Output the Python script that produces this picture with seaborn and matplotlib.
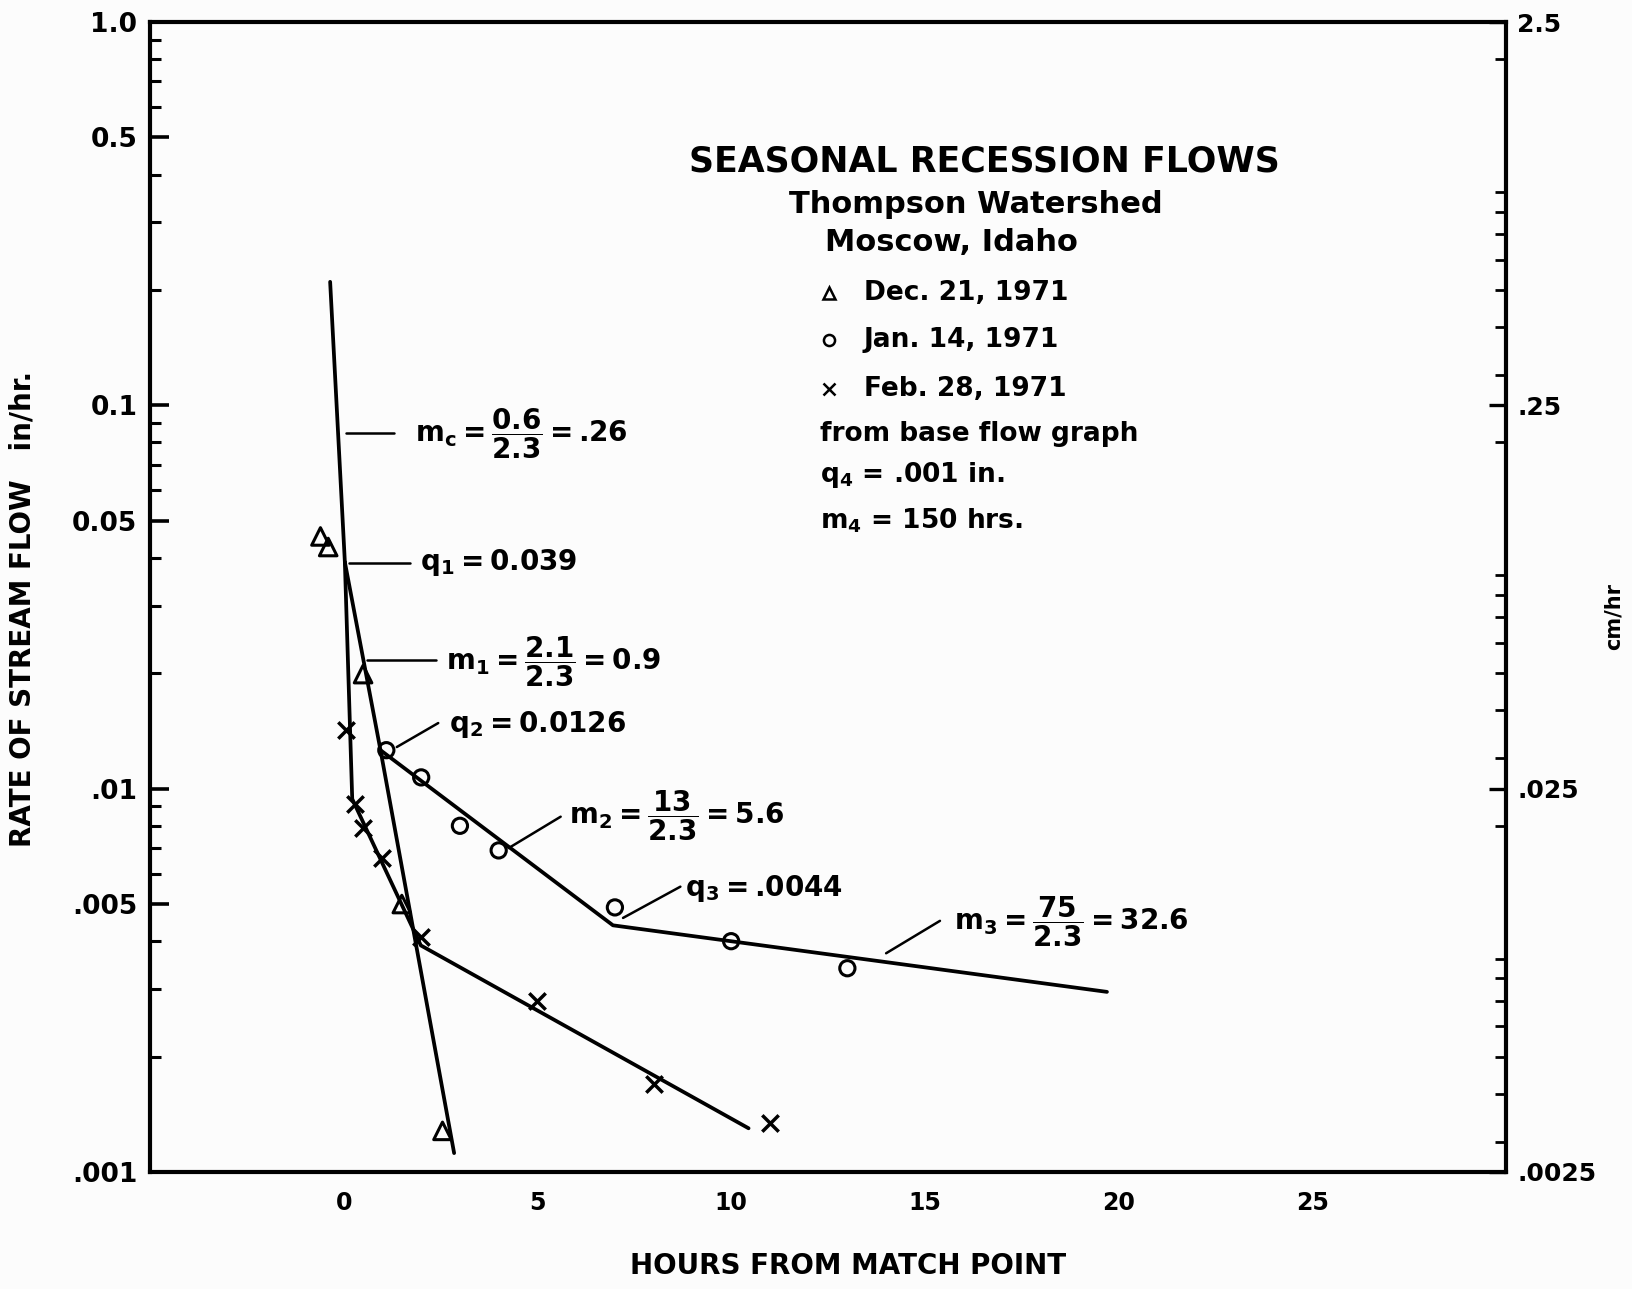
import matplotlib
matplotlib.use("Agg")
import matplotlib.pyplot as plt
import pandas as pd
import numpy as np
import seaborn as sns
from matplotlib.ticker import FixedLocator, LogLocator, NullFormatter, NullLocator

# Observed recession points (hours from match point, stream flow in/hr)
dec_hours = [-0.6, -0.4, 0.5, 1.5, 2.55]
dec_flow = [0.0455, 0.0427, 0.0199, 0.0050, 0.00128]
jan_hours = [1.1, 2.0, 3.0, 4.0, 7.0, 10.0, 13.0]
jan_flow = [0.0126, 0.0107, 0.0080, 0.0069, 0.0049, 0.0040, 0.0034]
feb_hours = [0.05, 0.3, 0.5, 1.0, 2.0, 5.0, 8.0, 11.0]
feb_flow = [0.0142, 0.0091, 0.0079, 0.0066, 0.0041, 0.0028, 0.0017, 0.00134]

# Fitted recession segments
mc_hours = [-0.35, 0.03]
mc_flow = [0.21, 0.039]
m1_hours = [0.03, 0.95, 2.85]
m1_flow = [0.039, 0.0126, 0.00112]
m23_hours = [0.95, 6.95, 19.7]
m23_flow = [0.0126, 0.0044, 0.00295]
feb_fit_hours = [0.03, 0.22, 1.99, 10.45]
feb_fit_flow = [0.039, 0.0094, 0.0039, 0.0013]

# Axis ticks
x_ticks = [0, 5, 10, 15, 20, 25]
y_ticks = [0.001, 0.005, 0.01, 0.05, 0.1, 0.5, 1.0]
y_tick_labels = [".001", ".005", ".01", "0.05", "0.1", "0.5", "1.0"]
cm_ticks = [0.0025, 0.025, 0.25, 2.5]
cm_tick_labels = [".0025", ".025", ".25", "2.5"]
IN_TO_CM = 2.5

sns.set_style("white")
plt.rcParams["font.family"] = ["DejaVu Sans"]
plt.rcParams["font.weight"] = "bold"
for key in ("text.color", "axes.labelcolor", "xtick.color", "ytick.color"):
    plt.rcParams[key] = "black"
plt.rcParams["mathtext.fontset"] = "custom"
for key in ("rm", "it", "bf", "sf"):
    plt.rcParams[f"mathtext.{key}"] = "DejaVu Sans:bold"
plt.rcParams["mathtext.default"] = "rm"

fig = plt.figure(figsize=(16.32, 12.89), dpi=100)
fig.patch.set_facecolor("#fcfcfc")
ax = fig.add_axes([0.0919, 0.0908, 0.8309, 0.8921])
ax.set_facecolor("#fcfcfc")
ax.set_yscale("log")

LW = 2.7
segments = [(mc_hours, mc_flow), (m1_hours, m1_flow), (m23_hours, m23_flow),
            (feb_fit_hours, feb_fit_flow)]
for hrs, flw in segments:
    sns.lineplot(x=hrs, y=flw, ax=ax, color="black", lw=LW, sort=False,
                 estimator=None)

sns.scatterplot(x=dec_hours, y=dec_flow, ax=ax, marker="^", s=160,
                facecolor="none", edgecolor="black", linewidth=2.2, zorder=5)
sns.scatterplot(x=jan_hours, y=jan_flow, ax=ax, marker="o", s=120,
                facecolor="none", edgecolor="black", linewidth=2.2, zorder=5)
sns.scatterplot(x=feb_hours, y=feb_flow, ax=ax, marker="x", s=140,
                color="black", linewidth=2.5, zorder=5)

ax.set_xlim(-5, 30)
ax.set_ylim(0.001, 1.0)

for side in ("left", "bottom", "top", "right"):
    ax.spines[side].set_visible(True)
    ax.spines[side].set_linewidth(3)
    ax.spines[side].set_color("black")

ax.xaxis.set_major_locator(FixedLocator(x_ticks))
ax.set_xticklabels([str(t) for t in x_ticks])
ax.xaxis.set_minor_locator(NullLocator())
ax.yaxis.set_major_locator(FixedLocator(y_ticks))
ax.set_yticklabels(y_tick_labels)
ax.yaxis.set_minor_locator(LogLocator(base=10, subs=np.arange(2, 10)))
ax.yaxis.set_minor_formatter(NullFormatter())
ax.tick_params(axis="x", which="major", direction="in", length=12, width=2.6,
               labelsize=17, pad=14, top=False)
ax.tick_params(axis="y", which="major", direction="in", length=14, width=2.6,
               labelsize=19, pad=9, right=False)
ax.tick_params(axis="y", which="minor", direction="in", length=8, width=2.2,
               right=False)

# Right-hand axis in cm/hr
ax2 = ax.twinx()
ax2.set_yscale("log")
ax2.set_ylim(0.001 * IN_TO_CM, 1.0 * IN_TO_CM)
ax2.yaxis.set_major_locator(FixedLocator(cm_ticks))
ax2.set_yticklabels(cm_tick_labels)
ax2.yaxis.set_minor_locator(LogLocator(base=10, subs=np.arange(2, 10)))
ax2.yaxis.set_minor_formatter(NullFormatter())
ax2.tick_params(axis="y", which="major", direction="in", length=12, width=2.4,
                labelsize=18, pad=8)
ax2.tick_params(axis="y", which="minor", direction="in", length=8, width=2)
for side in ax2.spines:
    ax2.spines[side].set_visible(False)
ax2.grid(False)
ax.grid(False)

ax.set_xlabel("HOURS FROM MATCH POINT", fontsize=20, fontweight="bold")
ax.xaxis.set_label_coords(0.515, -0.070)
ax.set_ylabel("RATE OF STREAM FLOW   in/hr.", fontsize=20, fontweight="bold",
              va="center")
ax.yaxis.set_label_coords(-0.094, 0.49)
ax.text(1.079, 0.483, "cm/hr", transform=ax.transAxes, rotation=90,
        fontsize=15, fontweight="bold", ha="center", va="center")

# Slope and break-point annotations with leader lines
def leader(x0, y0, x1, y1):
    ax.plot([x0, x1], [y0, y1], color="black", lw=1.8)

FS = 20
leader(0.05, 0.0849, 1.31, 0.0849)
ax.text(1.85, 0.0845, r"$m_c = \dfrac{0.6}{2.3} =$.26", fontsize=FS,
        va="center", ha="left")
leader(0.13, 0.0389, 1.72, 0.0389)
ax.text(1.98, 0.0389, r"$q_1 = 0.039$", fontsize=FS, va="center", ha="left")
leader(0.6, 0.0217, 2.39, 0.0217)
ax.text(2.65, 0.0215, r"$m_1 = \dfrac{2.1}{2.3} = 0.9$", fontsize=FS,
        va="center", ha="left")
leader(1.37, 0.01284, 2.44, 0.01483)
ax.text(2.73, 0.0147, r"$q_2 = 0.0126$", fontsize=FS, va="center", ha="left")
leader(4.26, 0.0070, 5.6, 0.00845)
ax.text(5.82, 0.0085, r"$m_2 = \dfrac{13}{2.3} = 5.6$", fontsize=FS,
        va="center", ha="left")
leader(7.21, 0.0046, 8.69, 0.00555)
ax.text(8.82, 0.0055, r"$q_3 =$.0044", fontsize=FS, va="center", ha="left")
leader(14.0, 0.00372, 15.39, 0.00452)
ax.text(15.74, 0.0045, r"$m_3 = \dfrac{75}{2.3} = 32.6$", fontsize=FS,
        va="center", ha="left")

# Title block and key
T = ax.transAxes
ax.text(0.6155, 0.8787, "SEASONAL RECESSION FLOWS", transform=T, fontsize=25,
        ha="center", va="center")
ax.text(0.609, 0.8416, "Thompson Watershed", transform=T, fontsize=22,
        ha="center", va="center")
ax.text(0.591, 0.8081, "Moscow, Idaho", transform=T, fontsize=22,
        ha="center", va="center")
key = [("^", "Dec. 21, 1971", 0.7647), ("o", "Jan. 14, 1971", 0.7231),
       ("x", "Feb. 28, 1971", 0.6805)]
for mk, lab, yy in key:
    ax.plot([0.5004], [yy], marker=mk, ms=8, mfc="none", mec="black", mew=1.8,
            transform=T, clip_on=False)
    ax.text(0.5265, yy, lab, transform=T, fontsize=19, ha="left", va="center")
ax.text(0.4942, 0.6416, "from base flow graph", transform=T, fontsize=19,
        ha="left", va="center")
ax.text(0.4942, 0.6063, r"$q_4$ = .001 in.", transform=T, fontsize=19,
        ha="left", va="center")
ax.text(0.4942, 0.5665, r"$m_4$ = 150 hrs.", transform=T, fontsize=19,
        ha="left", va="center")

fig.savefig("out.png", dpi=100, facecolor=fig.get_facecolor())
